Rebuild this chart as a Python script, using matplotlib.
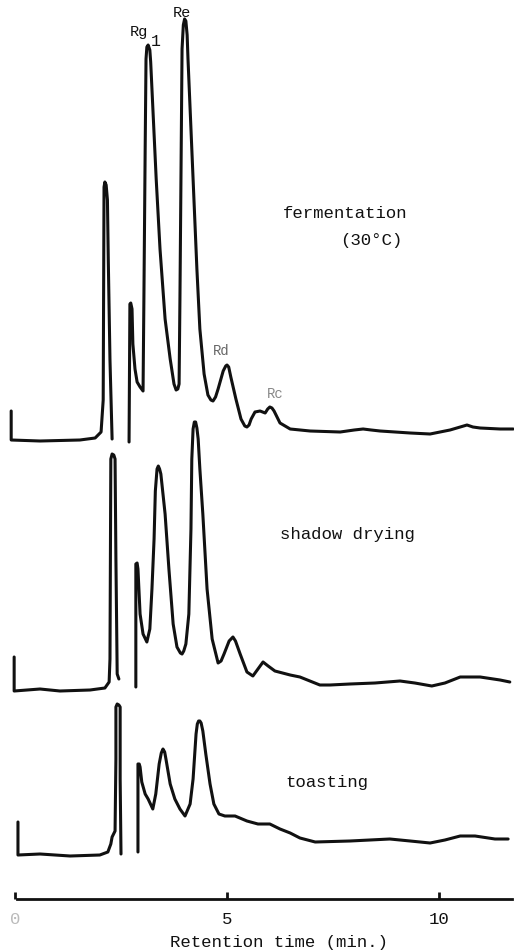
import numpy as np
import matplotlib
matplotlib.use('Agg')
from matplotlib import pyplot as plt

# Chromatogram traces: retention time (min) and detector response (arbitrary units)
# NaN marks where the recorder pen was lifted
t_ferm = [-0.09, -0.09, 0.59, 1.53, 1.89, 2.03, 2.08, 2.10, 2.12, 2.15, 2.18, 2.20, 2.24, 2.29, np.nan,
          2.69, 2.71, 2.73, 2.76, 2.78, 2.83, 2.88, 2.95, 3.02, 3.04, 3.07, 3.09, 3.11, 3.14, 3.18,
          3.20, 3.23, 3.33, 3.42, 3.54, 3.66, 3.75, 3.80, 3.84, 3.87, 3.89, 3.92, 3.94, 3.97,
          4.00, 4.03, 4.06, 4.08, 4.15, 4.22, 4.29, 4.36, 4.46, 4.55, 4.62, 4.67, 4.73, 4.79,
          4.91, 4.97, 5.00, 5.04, 5.09, 5.21, 5.33, 5.42, 5.47, 5.52, 5.57, 5.66, 5.78, 5.90,
          5.96, 6.01, 6.06, 6.11, 6.25, 6.49, 6.96, 7.67, 8.00, 8.21, 8.40, 8.61, 9.32, 9.79,
          10.26, 10.50, 10.66, 10.80, 10.97, 11.44, 11.75]
r_ferm = [29, 0, -1, 0, 2, 8, 40, 253, 258, 255, 240, 180, 80, 1, np.nan,
          -2, 136, 137, 131, 96, 71, 58, 53, 49, 141, 291, 381, 393, 395, 390,
          378, 351, 261, 191, 121, 81, 56, 50, 51, 56, 141, 291, 391, 415,
          421, 419, 405, 381, 311, 241, 171, 111, 66, 45, 40, 39, 43, 51,
          69, 74, 75, 73, 63, 41, 21, 14, 13, 15, 21, 28, 29, 27,
          31, 33, 32, 29, 17, 11, 9, 8, 10, 11, 10, 9, 7, 6,
          10, 13, 15, 13, 12, 11, 11]

t_shadow = [-0.02, -0.02, 0.59, 1.06, 1.77, 2.12, 2.22, 2.24, 2.26, 2.29, 2.33, 2.36, 2.38, 2.41, 2.45, np.nan,
            2.85, 2.85, 2.88, 2.90, 2.95, 3.02, 3.11, 3.18, 3.23, 3.28, 3.31, 3.35, 3.38, 3.41,
            3.44, 3.54, 3.63, 3.73, 3.82, 3.90, 3.94, 3.98, 4.03, 4.10, 4.15, 4.17, 4.20, 4.23,
            4.26, 4.29, 4.32, 4.36, 4.43, 4.53, 4.65, 4.79, 4.86, 4.93, 5.05, 5.14, 5.20, 5.31,
            5.47, 5.61, 5.73, 5.85, 5.97, 6.13, 6.49, 6.72, 7.19, 7.43, 7.90, 8.49, 9.08, 9.43,
            9.83, 10.14, 10.50, 10.97, 11.44, 11.67]
r_shadow = [34, 0, 2, 0, 1, 3, 9, 32, 232, 237, 236, 232, 132, 17, 12, np.nan,
            4, 127, 128, 122, 77, 57, 49, 62, 102, 152, 200, 222, 225, 222,
            217, 177, 122, 67, 44, 38, 37, 40, 47, 77, 162, 232, 262, 269,
            269, 263, 252, 222, 177, 102, 52, 28, 30, 37, 50, 54, 50, 37,
            19, 15, 22, 29, 25, 20, 16, 14, 6, 6, 7, 8, 10, 8,
            5, 8, 14, 14, 11, 9]

t_toast = [0.07, 0.07, 0.59, 1.30, 2.00, 2.19, 2.26, 2.29, 2.36, 2.38, 2.38, 2.41, 2.45, 2.48, 2.48, 2.50, np.nan,
           2.90, 2.90, 2.93, 2.95, 2.99, 3.07, 3.14, 3.25, 3.32, 3.40, 3.45, 3.49, 3.53, 3.56,
           3.66, 3.77, 3.89, 4.01, 4.13, 4.20, 4.27, 4.30, 4.33, 4.36, 4.39, 4.43, 4.50, 4.60,
           4.69, 4.81, 4.95, 5.19, 5.47, 5.73, 6.01, 6.25, 6.49, 6.72, 7.08, 7.90, 8.37, 8.84,
           9.32, 9.79, 10.14, 10.50, 10.85, 11.32, 11.63]
r_toast = [33, 0, 1, -1, 0, 3, 11, 18, 24, 96, 148, 151, 150, 148, 76, 1, np.nan,
           3, 91, 91, 88, 73, 61, 56, 46, 61, 91, 102, 106, 103, 96,
           71, 56, 46, 39, 51, 76, 121, 131, 134, 134, 132, 124, 101, 71,
           51, 41, 39, 39, 34, 31, 31, 26, 22, 17, 13, 14, 15, 16,
           14, 12, 15, 19, 19, 16, 16]

sample_names = ['fermentation', '(30°C)', 'shadow drying', 'toasting']
x_ticks = [0, 5, 10]
x_ticklabels = ['0', '5', '10']

W, H = 514, 953
fig = plt.figure(figsize=(W / 100, H / 100), dpi=100)
ax = fig.add_axes([0, 53 / H, 1, 1 - 53 / H])

mono = 'Liberation Mono'
ink = '#111111'

# stack the three runs with vertical offsets
offsets = [459, 208, 44]
for t, r, off in zip([t_ferm, t_shadow, t_toast], [r_ferm, r_shadow, r_toast], offsets):
    ax.plot(t, np.array(r, dtype=float) + off, color=ink, lw=2.2,
            solid_joinstyle='round', solid_capstyle='round')

ax.set_xlim(-15 / 42.4, (W - 15) / 42.4)
ax.set_ylim(0, 900)

for s in ['left', 'right', 'top']:
    ax.spines[s].set_visible(False)
ax.spines['bottom'].set_linewidth(2.0)
ax.spines['bottom'].set_color(ink)
ax.spines['bottom'].set_bounds(0.05, 11.72)
ax.set_yticks([])
ax.set_xticks(x_ticks)
ax.set_xticklabels(x_ticklabels, fontfamily=mono, fontsize=12.5)
ax.tick_params(axis='x', direction='in', length=5, width=2.0, color=ink, pad=9, labelcolor=ink)
ax.get_xticklabels()[0].set_color('#bbbbbb')

# sample labels
fig.text(283 / W, 1 - 213 / H, sample_names[0], fontfamily=mono, fontsize=12.5, color=ink, va='center')
fig.text(340 / W, 1 - 240 / H, sample_names[1], fontfamily=mono, fontsize=12.5, color=ink, va='center')
fig.text(280 / W, 1 - 535 / H, sample_names[2], fontfamily=mono, fontsize=12.5, color=ink, va='center')
fig.text(285 / W, 1 - 782 / H, sample_names[3], fontfamily=mono, fontsize=12.5, color=ink, va='center')

# peak labels
fig.text(130 / W, 1 - 32 / H, 'Rg', fontfamily=mono, fontsize=11, color=ink, va='center')
fig.text(151 / W, 1 - 41 / H, '1', fontfamily=mono, fontsize=12, color=ink, va='center')
fig.text(173 / W, 1 - 13 / H, 'Re', fontfamily=mono, fontsize=11, color=ink, va='center')
fig.text(213 / W, 1 - 351 / H, 'Rd', fontfamily=mono, fontsize=10, color='#666666', va='center')
fig.text(267 / W, 1 - 394 / H, 'Rc', fontfamily=mono, fontsize=10, color='#888888', va='center')

fig.text(279 / W, 1 - 943 / H, 'Retention time (min.)', fontfamily=mono, fontsize=12.5,
         color=ink, ha='center', va='center')

fig.savefig('out.png', dpi=100)
